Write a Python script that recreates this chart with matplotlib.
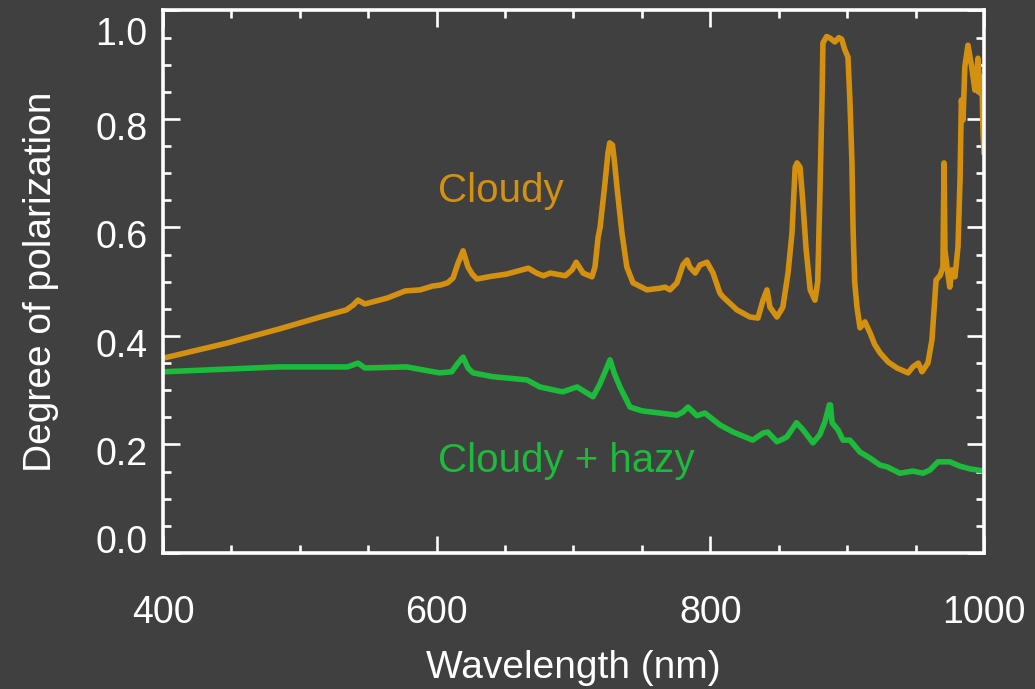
import numpy as np
import matplotlib
matplotlib.use('Agg')
import matplotlib.pyplot as plt
from matplotlib.transforms import ScaledTranslation

# Cloudy spectrum (wavelength nm, degree of polarization)
cloudy_wl = [400, 447, 485, 515, 534, 539, 542.5, 547.5, 564, 577, 588, 597, 603, 608,
	612, 615.6, 619.3, 622.9, 626, 629.5, 640, 651, 667, 673, 678, 683, 694, 699,
	702, 707, 713.5, 715.7, 718, 719.5, 723, 725.2, 726.5, 728.5, 730, 732, 735.4,
	739, 743.5, 753.7, 763, 767, 770.5, 775.6, 780, 783, 785, 789, 792.5, 797.6,
	802, 807, 809.3, 819.5, 829, 834.8, 838.5, 841.4, 843.6, 848.7, 853, 856.8,
	859.7, 862, 863.4, 865.6, 867.5, 870, 873, 876.5, 878.5, 880, 881.6, 882.3,
	885, 887.5, 891, 894, 896, 898.4, 900.6, 902, 903.5, 904.3, 905.5, 907.2,
	909.4, 911, 913, 916.7, 920, 924, 930, 936.4, 944.5, 948, 952, 954.7, 959,
	962, 965, 968, 970, 970.8, 971.5, 973, 975, 976.6, 978.8, 981, 982.5, 983.5,
	984.7, 986, 988.3, 991, 993.4, 995.6, 997, 998.5, 999.3, 1000]
cloudy_pol = [0.359, 0.387, 0.413, 0.435, 0.448, 0.457, 0.466, 0.459, 0.470, 0.483,
	0.485, 0.492, 0.494, 0.498, 0.507, 0.534, 0.557, 0.527, 0.514, 0.505, 0.510,
	0.514, 0.525, 0.516, 0.511, 0.516, 0.511, 0.522, 0.536, 0.516, 0.509, 0.527,
	0.582, 0.601, 0.682, 0.737, 0.756, 0.752, 0.720, 0.669, 0.590, 0.527, 0.498,
	0.485, 0.488, 0.490, 0.485, 0.498, 0.531, 0.540, 0.527, 0.516, 0.531, 0.536,
	0.516, 0.479, 0.472, 0.448, 0.435, 0.433, 0.466, 0.485, 0.453, 0.435, 0.453,
	0.516, 0.590, 0.711, 0.719, 0.711, 0.651, 0.560, 0.485, 0.466, 0.500, 0.651,
	0.835, 0.940, 0.952, 0.949, 0.942, 0.950, 0.947, 0.927, 0.914, 0.835, 0.720,
	0.600, 0.500, 0.453, 0.415, 0.420, 0.426, 0.406, 0.385, 0.369, 0.352, 0.341,
	0.332, 0.343, 0.350, 0.334, 0.350, 0.393, 0.503, 0.512, 0.527, 0.719, 0.558,
	0.527, 0.490, 0.522, 0.509, 0.564, 0.688, 0.835, 0.798, 0.896, 0.936, 0.896,
	0.853, 0.912, 0.848, 0.877, 0.774, 0.739]

# Cloudy + hazy spectrum
hazy_wl = [400, 485, 535, 542.5, 547.6, 578, 602, 611, 615.6, 619.3, 622.9, 626.6,
	641, 666, 675.5, 692, 702.6, 714.3, 719, 721.6, 726.7, 730, 734, 741.3, 750,
	763, 775.6, 780, 783.7, 790.3, 796, 807, 816.6, 831, 838.5, 842, 848.7, 853,
	856, 863, 867.8, 875, 880, 883.8, 887, 887.8, 889, 893.3, 897, 902, 909.4,
	916.7, 924, 929, 938.6, 948, 955.4, 960.5, 966.4, 975, 982.5, 989.8, 1000]
hazy_pol = [0.334, 0.343, 0.343, 0.350, 0.341, 0.343, 0.332, 0.334, 0.350, 0.361,
	0.341, 0.332, 0.325, 0.319, 0.306, 0.297, 0.306, 0.288, 0.310, 0.325, 0.356,
	0.330, 0.306, 0.269, 0.262, 0.258, 0.254, 0.260, 0.269, 0.253, 0.258, 0.236,
	0.223, 0.208, 0.221, 0.223, 0.205, 0.210, 0.214, 0.240, 0.227, 0.203, 0.218,
	0.242, 0.273, 0.273, 0.240, 0.227, 0.208, 0.208, 0.186, 0.175, 0.162, 0.159,
	0.147, 0.151, 0.147, 0.153, 0.168, 0.168, 0.160, 0.155, 0.151]

x_major = [400, 600, 800, 1000]
y_major = [0.0, 0.2, 0.4, 0.6, 0.8, 1.0]

bg = '#404040'
orange = '#d4910f'
green = '#1dbb3b'

plt.rcParams['font.family'] = ['Liberation Sans', 'DejaVu Sans']

fig = plt.figure(figsize=(10.35, 6.89), dpi=100, facecolor=bg)
ax = fig.add_axes([0.1575, 0.1974, 0.7932, 0.7874], facecolor=bg)

ax.plot(cloudy_wl, cloudy_pol, color=orange, lw=4, solid_joinstyle='round')
ax.plot(hazy_wl, hazy_pol, color=green, lw=4, solid_joinstyle='round')

ax.text(601, 0.647, 'Cloudy', color=orange, fontsize=29, va='baseline')
ax.text(601, 0.149, 'Cloudy + hazy', color=green, fontsize=29, va='baseline')

ax.set_xlim(400, 1000)
ax.set_ylim(0, 1.0)
ax.set_xticks(x_major)
ax.set_xticks(np.arange(400, 1001, 50), minor=True)
ax.set_yticks(y_major)
ax.set_yticks(np.arange(0, 1.001, 0.05), minor=True)
ax.set_yticklabels(['%.1f' % v for v in y_major])

for s in ax.spines.values():
	s.set_color('white')
	s.set_linewidth(2.6)

ax.tick_params(which='both', direction='in', top=True, right=True, colors='white', width=1.9)
ax.tick_params(which='major', length=12)
ax.tick_params(which='minor', length=6)
ax.tick_params(axis='x', which='major', pad=30, labelsize=27)
ax.tick_params(axis='y', which='major', pad=11, labelsize=27)

# end labels pushed inside the box, the others sit a bit under their tick
down = ScaledTranslation(0, -5 / 72, fig.dpi_scale_trans)
ylabs = ax.get_yticklabels()
for lab in ylabs[1:]:
	lab.set_transform(lab.get_transform() + down)
ylabs[0].set_va('baseline')
ylabs[-1].set_va('top')

ax.set_xlabel('Wavelength (nm)', color='white', fontsize=28, labelpad=14)
ax.set_ylabel('Degree of polarization', color='white', fontsize=28, labelpad=26)

fig.savefig('out.png', dpi=100, facecolor=bg)
